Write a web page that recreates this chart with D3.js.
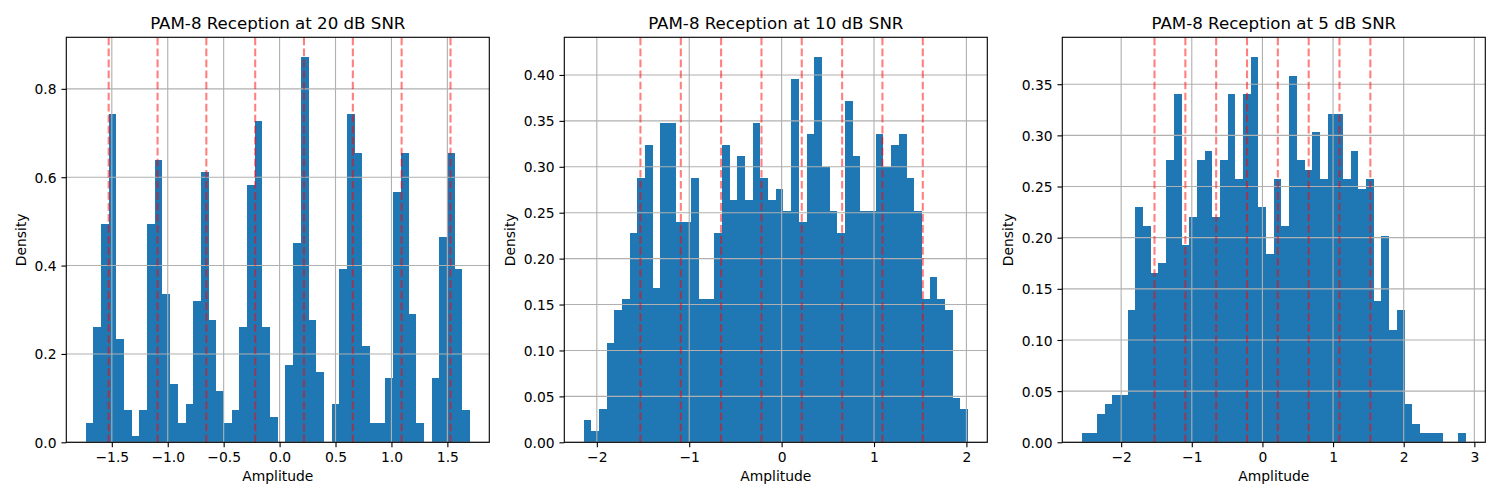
<!DOCTYPE html>
<html>
<head>
<meta charset="utf-8">
<script src="https://cdn.jsdelivr.net/npm/d3@7"></script>
<style>
  body { margin: 0; background: #fff; }
  svg { display: block; font-family: 'DejaVu Sans', sans-serif; }
</style>
</head>
<body>
<svg id="chart" width="1500" height="500"></svg>
<script>
// values (density per bin, 50 bins each)
const TITLES = ['PAM-8 Reception at 20 dB SNR', 'PAM-8 Reception at 10 dB SNR', 'PAM-8 Reception at 5 dB SNR'];
const BIN_RANGES = [[-1.735, 1.703], [-2.144, 2.018], [-2.561, 2.883]];

const DENSITY_20DB = [
  0.044, 0.262, 0.495, 0.742, 0.233, 0.073, 0.015, 0.073, 0.495, 0.640,
  0.335, 0.131, 0.044, 0.087, 0.320, 0.611, 0.276, 0.116, 0.044, 0.073,
  0.262, 0.582, 0.727, 0.262, 0.058, 0, 0.175, 0.451, 0.873, 0.276,
  0.160, 0, 0.087, 0.393, 0.742, 0.654, 0.218, 0.044, 0.044, 0.145,
  0.567, 0.654, 0.291, 0.044, 0, 0.145, 0.465, 0.654, 0.393, 0.073,
];
const DENSITY_10DB = [
  0.024, 0.012, 0.036, 0.108, 0.144, 0.156, 0.228, 0.288, 0.324, 0.168,
  0.348, 0.348, 0.240, 0.240, 0.288, 0.156, 0.156, 0.228, 0.324, 0.264,
  0.312, 0.264, 0.348, 0.288, 0.264, 0.276, 0.252, 0.396, 0.240, 0.336,
  0.420, 0.300, 0.252, 0.228, 0.372, 0.312, 0.252, 0.252, 0.336, 0.300,
  0.324, 0.336, 0.288, 0.252, 0.156, 0.180, 0.156, 0.144, 0.048, 0.036,
];
const DENSITY_5DB = [
  0.009, 0.009, 0.028, 0.037, 0.046, 0.046, 0.129, 0.230, 0.211, 0.165,
  0.175, 0.276, 0.340, 0.193, 0.220, 0.276, 0.285, 0.220, 0.276, 0.340,
  0.257, 0.340, 0.377, 0.230, 0.184, 0.257, 0.211, 0.358, 0.276, 0.266,
  0.303, 0.257, 0.321, 0.321, 0.257, 0.285, 0.248, 0.257, 0.138, 0.202,
  0.110, 0.129, 0.037, 0.018, 0.009, 0.009, 0.009, 0, 0, 0.009,
];

// ideal PAM-8 levels (unit average power)
const PAM8_LEVELS = [-1.528, -1.091, -0.655, -0.218, 0.218, 0.655, 1.091, 1.528];

const X_TICKS = [
  [-1.5, -1.0, -0.5, 0.0, 0.5, 1.0, 1.5],
  [-2, -1, 0, 1, 2],
  [-2, -1, 0, 1, 2, 3],
];
const Y_TICKS = [
  [0, 0.2, 0.4, 0.6, 0.8],
  [0, 0.05, 0.1, 0.15, 0.2, 0.25, 0.3, 0.35, 0.4],
  [0, 0.05, 0.1, 0.15, 0.2, 0.25, 0.3, 0.35],
];
const X_FORMATS = ['.1f', 'd', 'd'];
const Y_FORMATS = ['.1f', '.2f', '.2f'];
const SERIES = [DENSITY_20DB, DENSITY_10DB, DENSITY_5DB];

const SVG = d3.select('#chart');
const LEFTS = [66.3, 564.3, 1062.3];
const AX_W = 423;
const TOP = 37.3;
const AX_H = 405;
const TICK = 4.86;
const FS = 13.89;
const LW = 1.11;

SERIES.forEach((density, i) => {
  const [lo, hi] = BIN_RANGES[i];
  const span = hi - lo;
  const n = density.length;
  const edges = d3.range(n + 1).map((k) => lo + (k * span) / n);

  const x = d3.scaleLinear().domain([lo - 0.05 * span, hi + 0.05 * span]).range([0, AX_W]);
  const y = d3.scaleLinear().domain([0, d3.max(density) * 1.05]).range([AX_H, 0]);

  const G = SVG.append('g').attr('transform', `translate(${LEFTS[i]},${TOP})`);

  // bars
  G.append('g')
    .selectAll('rect')
    .data(density)
    .join('rect')
    .attr('x', (d, k) => x(edges[k]))
    .attr('width', (d, k) => x(edges[k + 1]) - x(edges[k]))
    .attr('y', (d) => y(d))
    .attr('height', (d) => y(0) - y(d))
    .attr('fill', '#1f77b4')
    .attr('shape-rendering', 'crispEdges');

  // grid (drawn over bars like matplotlib)
  const GRID = G.append('g').attr('stroke', '#b0b0b0').attr('stroke-width', LW);
  GRID.selectAll('.gx')
    .data(X_TICKS[i])
    .join('line')
    .attr('x1', (d) => x(d))
    .attr('x2', (d) => x(d))
    .attr('y1', 0)
    .attr('y2', AX_H);
  GRID.selectAll('.gy')
    .data(Y_TICKS[i])
    .join('line')
    .attr('x1', 0)
    .attr('x2', AX_W)
    .attr('y1', (d) => y(d))
    .attr('y2', (d) => y(d));

  // symbol levels
  G.append('g')
    .selectAll('line')
    .data(PAM8_LEVELS)
    .join('line')
    .attr('x1', (d) => x(d))
    .attr('x2', (d) => x(d))
    .attr('y1', AX_H)
    .attr('y2', 0)
    .attr('stroke', 'red')
    .attr('stroke-opacity', 0.5)
    .attr('stroke-width', 2.08)
    .attr('stroke-dasharray', '7.7,3.33');

  // axes
  const X_AXIS = G.append('g')
    .attr('transform', `translate(0,${AX_H})`)
    .call(
      d3.axisBottom(x)
        .tickValues(X_TICKS[i])
        .tickFormat(d3.format(X_FORMATS[i]))
        .tickSize(TICK)
        .tickSizeOuter(0)
        .tickPadding(TICK)
    );
  const Y_AXIS = G.append('g').call(
    d3.axisLeft(y)
      .tickValues(Y_TICKS[i])
      .tickFormat(d3.format(Y_FORMATS[i]))
      .tickSize(TICK)
      .tickSizeOuter(0)
      .tickPadding(TICK)
  );
  [X_AXIS, Y_AXIS].forEach((ax) => {
    ax.select('.domain').remove();
    ax.selectAll('line').attr('stroke', '#000').attr('stroke-width', LW);
    ax.selectAll('text')
      .style('font-family', "'DejaVu Sans', sans-serif")
      .style('font-size', `${FS}px`)
      .attr('fill', '#000');
  });
  X_AXIS.selectAll('text').attr('dy', '0.74em');
  Y_AXIS.selectAll('text').attr('dy', '0.36em');

  // spines
  G.append('rect')
    .attr('width', AX_W)
    .attr('height', AX_H)
    .attr('fill', 'none')
    .attr('stroke', '#000')
    .attr('stroke-width', LW);

  // labels
  G.append('text')
    .text(TITLES[i])
    .attr('x', AX_W / 2)
    .attr('y', -8.33)
    .attr('text-anchor', 'middle')
    .style('font-size', '16.67px');

  G.append('text')
    .text('Amplitude')
    .attr('x', AX_W / 2)
    .attr('y', AX_H + 38.5)
    .attr('text-anchor', 'middle')
    .style('font-size', `${FS}px`);

  const LABEL_W = d3.max(Y_AXIS.selectAll('text').nodes(), (t) => t.getComputedTextLength());
  const LX = -(2 * TICK + LABEL_W + 5.56 + 3.28);
  G.append('text')
    .text('Density')
    .attr('transform', `translate(${LX},${AX_H / 2}) rotate(-90)`)
    .attr('text-anchor', 'middle')
    .style('font-size', `${FS}px`);
});
</script>
</body>
</html>
